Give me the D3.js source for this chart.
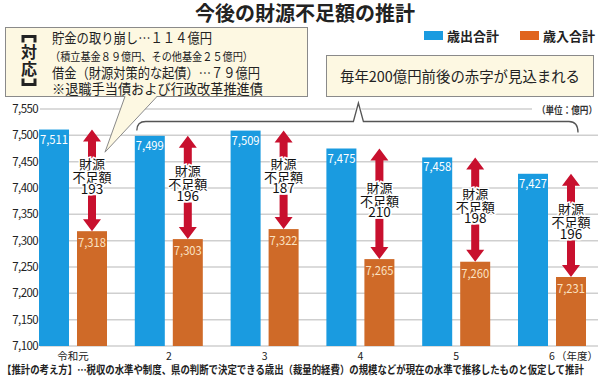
<!DOCTYPE html>
<html><head><meta charset="utf-8">
<script src="https://cdn.jsdelivr.net/npm/d3@7/dist/d3.min.js"></script>
<style>
html,body{margin:0;padding:0;background:#fff;}
svg{display:block;font-family:"Noto Sans CJK JP","Noto Sans",sans-serif;}
</style></head>
<body>
<svg id="chart" width="601" height="382"></svg>
<script>
const categories = ['令和元','2','3','4','5','6'];
const expenditure = [7511,7499,7509,7475,7458,7427];
const revenue = [7318,7303,7322,7265,7260,7231];
const shortfall = [193,196,187,210,198,196];
const yTicks = [7100,7150,7200,7250,7300,7350,7400,7450,7500,7550];
const seriesNames = ['歳出合計','歳入合計'];
const noteLines = ['貯金の取り崩し…１１４億円','（積立基金８９億円、その他基金２５億円）','借金（財源対策的な起債）…７９億円','※退職手当債および行政改革推進債'];

const C_BLUE = '#1a9be0', C_ORANGE = '#cf6a28', C_RED = '#c8102e';
const svg = d3.select('#chart');

const y = d3.scaleLinear().domain([7100,7550]).range([346,109]);
const x = d3.scaleBand().domain(categories).range([25.1,599.9]).padding(0);
const xi = d3.scaleBand().domain(['out','in']).range([-34,34]).paddingInner(0.2105);
const cx = c => x(c) + x.bandwidth()/2;

// gridlines
svg.append('g').selectAll('line').data(yTicks).join('line')
  .attr('x1',40).attr('x2',598).attr('y1',d=>y(d)).attr('y2',d=>y(d))
  .attr('stroke','#cfcfcf').attr('stroke-width',1.5);
// y labels
svg.append('g').selectAll('text').data(yTicks).join('text')
  .attr('x',38).attr('y',d=>y(d)+4).attr('text-anchor','end')
  .attr('font-size',11.5).attr('fill','#222').attr('letter-spacing',-0.6)
  .text(d=>d3.format(',')(d));

// unit label
svg.append('rect').attr('x',532).attr('y',102).attr('width',69).attr('height',14).attr('fill','#fff');
svg.append('text').attr('transform','translate(597,114) scale(0.86,1)').attr('text-anchor','end').attr('font-size',10)
  .attr('font-weight','bold').attr('fill','#333')
  .text('（単位：億円）');

// bars
const gBars = svg.append('g');
categories.forEach((c,i)=>{
  const xb = cx(c)+xi('out'), xo = cx(c)+xi('in'), w = xi.bandwidth();
  gBars.append('rect').attr('x',xb).attr('y',y(expenditure[i])).attr('width',w)
    .attr('height',y(7100)-y(expenditure[i])).attr('fill',C_BLUE);
  gBars.append('rect').attr('x',xo).attr('y',y(revenue[i])).attr('width',w)
    .attr('height',y(7100)-y(revenue[i])).attr('fill',C_ORANGE);
  gBars.append('text').attr('x',xb+w/2).attr('y',y(expenditure[i])+14).attr('text-anchor','middle')
    .attr('font-size',12).attr('fill','#fff').attr('textLength',28).attr('lengthAdjust','spacingAndGlyphs')
    .text(d3.format(',')(expenditure[i]));
  gBars.append('text').attr('x',xo+w/2).attr('y',y(revenue[i])+16).attr('text-anchor','middle')
    .attr('font-size',12).attr('fill','#fbe2c2').attr('textLength',28).attr('lengthAdjust','spacingAndGlyphs')
    .text(d3.format(',')(revenue[i]));

  // red double arrow
  const ax = xo + w/2, top = y(expenditure[i]), bot = y(revenue[i]), mid = (top+bot)/2;
  const hl = 12, hw = 9, sw = 4;
  const g = svg.append('g');
  g.append('path').attr('fill',C_RED).attr('d',
    `M${ax},${top} L${ax+hw},${top+hl} L${ax+sw},${top+hl} L${ax+sw},${mid-22} L${ax-sw},${mid-22} L${ax-sw},${top+hl} L${ax-hw},${top+hl} Z`);
  g.append('path').attr('fill',C_RED).attr('d',
    `M${ax},${bot} L${ax+hw},${bot-hl} L${ax+sw},${bot-hl} L${ax+sw},${mid+15} L${ax-sw},${mid+15} L${ax-sw},${bot-hl} L${ax-hw},${bot-hl} Z`);
  const lines = [['財源',mid-11,13],['不足額',mid+2,13],[String(shortfall[i]),mid+13.5,13.5]];
  lines.forEach(([t,yy,fs])=>{
    g.append('text').attr('x',ax).attr('y',yy).attr('text-anchor','middle').attr('font-size',fs)
      .attr('fill','#111').attr('stroke','#fff').attr('stroke-width',3).attr('paint-order','stroke')
      .text(t);
  });
});

// category labels
svg.append('g').selectAll('text').data(categories).join('text')
  .attr('x',d=>cx(d)).attr('y',360).attr('text-anchor','middle').attr('font-size',10.5).attr('fill','#222')
  .text(d=>d);
svg.append('text').attr('x',598).attr('y',360).attr('text-anchor','end').attr('font-size',10.5).attr('fill','#222')
  .text('（年度）');

// footer
svg.append('text').attr('transform','translate(2,374) scale(0.855,1)').attr('font-size',11).attr('font-weight','bold').attr('fill','#222')
  .text('【推計の考え方】…税収の水準や制度、県の判断で決定できる歳出（裁量的経費）の規模などが現在の水準で推移したものと仮定して推計');

// title
svg.append('text').attr('x',305).attr('y',21).attr('text-anchor','middle').attr('font-size',20)
  .attr('font-weight','bold').attr('fill','#222').text('今後の財源不足額の推計');

// legend
const legX = [424,520];
seriesNames.forEach((n,i)=>{
  svg.append('rect').attr('x',legX[i]).attr('y',31).attr('width',19).attr('height',9).attr('fill',[C_BLUE,'#e0641e'][i]);
  svg.append('text').attr('x',legX[i]+23).attr('y',41).attr('font-size',13).attr('font-weight','bold')
    .attr('fill','#222').text(n);
});

// callout box (left)
const cream = '#fdf8e2', boxStroke = '#8a8a8a';
svg.append('rect').attr('x',5.5).attr('y',27.5).attr('width',302).attr('height',69)
  .attr('fill',cream).attr('stroke',boxStroke).attr('stroke-width',1);
const tipX = cx(categories[0]) + xi('in') + xi.bandwidth()/2 + 13, tipY = y(7468);
svg.append('path').attr('d',`M125,96 L${tipX},${tipY} L157,96 Z`).attr('fill',cream).attr('stroke','none');
svg.append('path').attr('d',`M125,96.5 L${tipX},${tipY} L157,96.5`).attr('fill','none')
  .attr('stroke',boxStroke).attr('stroke-width',1);
// vertical 【対応】
svg.append('path').attr('fill','#222').attr('d','M21.5,35 L36.5,35 L36.5,42.5 L33.5,42.5 L33.5,38 L24.5,38 L24.5,42.5 L21.5,42.5 Z');
svg.append('path').attr('fill','#222').attr('d','M21.5,86 L36.5,86 L36.5,78.5 L33.5,78.5 L33.5,83 L24.5,83 L24.5,78.5 L21.5,78.5 Z');
['対','応'].forEach((ch,i)=>{
  svg.append('text').attr('x',29).attr('y',[58,75][i]).attr('text-anchor','middle')
    .attr('font-size',16).attr('font-weight','bold').attr('fill','#222').text(ch);
});
const nl = [[43,14,160,52],[61,11.5,203,50],[78,14,208,52],[94,14,211,52]];
noteLines.forEach((t,i)=>{
  svg.append('text').attr('x',nl[i][3]).attr('y',nl[i][0]).attr('font-size',nl[i][1]).attr('fill','#222')
    .attr('textLength',nl[i][2]).attr('lengthAdjust','spacingAndGlyphs').text(t);
});

// right box
svg.append('rect').attr('x',326.5).attr('y',55.5).attr('width',267).attr('height',41)
  .attr('fill',cream).attr('stroke',boxStroke).attr('stroke-width',1);
svg.append('text').attr('x',340).attr('y',82).attr('font-size',14.5).attr('fill','#222')
  .attr('textLength',240).attr('lengthAdjust','spacingAndGlyphs').text('毎年200億円前後の赤字が見込まれる');

// bracket
const bl = cx(categories[1]) + xi('out') + 2, br = cx(categories[5]) + xi('in') + 22;
const by = 121.5, apex = cx(categories[3]) - 2, r = 9;
svg.append('path').attr('fill','#fff').attr('stroke','none')
  .attr('d',`M${apex-6},${by} L${apex},97 L${apex+6},${by} Z`);
svg.append('path').attr('fill','none').attr('stroke','#555').attr('stroke-width',1.3)
  .attr('d',`M${bl},${by+9} Q${bl},${by} ${bl+r},${by} L${apex-5},${by} L${apex},${103} L${apex+5},${by} L${br-r},${by} Q${br},${by} ${br},${by+11}`);
</script>
</body></html>
